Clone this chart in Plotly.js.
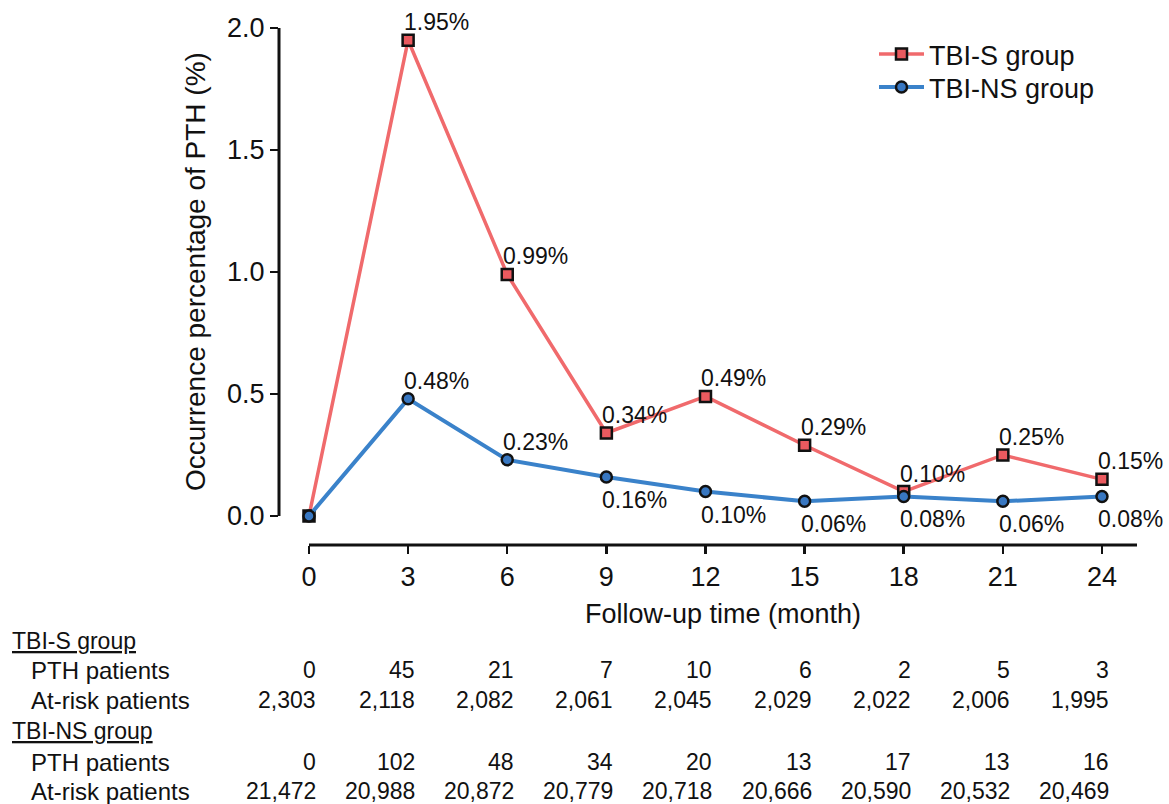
<!DOCTYPE html>
<html><head><meta charset="utf-8">
<script src="https://cdn.plot.ly/plotly-3.0.1.min.js"></script>
<style>html,body{margin:0;padding:0;background:#fff;} #chart{width:1169px;height:804px;}</style>
</head><body><div id="chart"></div>
<script>
// ---- data ----
const months = [0, 3, 6, 9, 12, 15, 18, 21, 24];
const tbiS = [0, 1.95, 0.99, 0.34, 0.49, 0.29, 0.10, 0.25, 0.15];
const tbiNS = [0, 0.48, 0.23, 0.16, 0.10, 0.06, 0.08, 0.06, 0.08];
const yTickVals = [0, 0.5, 1.0, 1.5, 2.0];
const yTickText = ['0.0', '0.5', '1.0', '1.5', '2.0'];
const sPTH = ['0', '45', '21', '7', '10', '6', '2', '5', '3'];
const sRisk = ['2,303', '2,118', '2,082', '2,061', '2,045', '2,029', '2,022', '2,006', '1,995'];
const nsPTH = ['0', '102', '48', '34', '20', '13', '17', '13', '16'];
const nsRisk = ['21,472', '20,988', '20,872', '20,779', '20,718', '20,666', '20,590', '20,532', '20,469'];
const seriesNames = ['TBI-S group', 'TBI-NS group'];
const tableGroups = ['TBI-S group', 'TBI-NS group'];
const tableRowNames = ['PTH patients', 'At-risk patients'];

// ---- geometry ----
const W = 1169, H = 804;
const M = {l: 279, r: 32, t: 28, b: 259};
const PW = W - M.l - M.r, PH = H - M.t - M.b;
const xRange = [-0.908, 25.06];
const yRange = [-0.119, 2.0];
const FONT = 'Liberation Sans, Arial, Helvetica, sans-serif';
const px2x = p => (p - M.l) / PW;          // pixel -> paper x
const py2y = p => (H - M.b - p) / PH;      // pixel -> paper y

const RED_LINE = '#F06A6C', RED_FILL = '#EA5A5F';
const BLUE_LINE = '#3A82CA', BLUE_FILL = '#3877C1';

const traces = [
  {
    x: months, y: tbiS, name: seriesNames[0], type: 'scatter', mode: 'lines+markers',
    line: {color: RED_LINE, width: 3.5}, legend: 'legend',
    marker: {symbol: 'square', size: 11, color: RED_FILL, line: {color: '#111', width: 2.5}},
    cliponaxis: false
  },
  {
    x: months, y: tbiNS, name: seriesNames[1], type: 'scatter', mode: 'lines+markers',
    line: {color: BLUE_LINE, width: 4}, legend: 'legend2',
    marker: {symbol: 'circle', size: 11, color: BLUE_FILL, line: {color: '#111', width: 2.5}},
    cliponaxis: false
  }
];

const ann = [];
const LF = {family: FONT, size: 23, color: '#111'};
// data labels
months.forEach((m, i) => {
  if (m === 0) return;
  ann.push({x: m, y: tbiS[i], xref: 'x', yref: 'y', text: tbiS[i].toFixed(2) + '%',
    showarrow: false, xanchor: 'left', yanchor: 'bottom', xshift: -6, yshift: 3, font: LF});
  ann.push({x: m, y: tbiNS[i], xref: 'x', yref: 'y', text: tbiNS[i].toFixed(2) + '%',
    showarrow: false, xanchor: 'left', yanchor: i <= 2 ? 'bottom' : 'top', xshift: -6,
    yshift: i <= 2 ? 3 : -8, font: LF});
});
// y axis title (centered on the drawn axis line 0..2)
ann.push({xref: 'paper', yref: 'y', x: px2x(196), y: (yTickVals[0] + yTickVals[yTickVals.length - 1]) / 2,
  text: 'Occurrence percentage of PTH (%)', textangle: -90, showarrow: false,
  xanchor: 'center', yanchor: 'middle', font: {family: FONT, size: 28, color: '#111'}});
// x axis title (centered on axis line)
ann.push({xref: 'x', yref: 'paper', x: xRange[1] / 2, y: py2y(614),
  text: 'Follow-up time (month)', showarrow: false, xanchor: 'center', yanchor: 'middle',
  font: {family: FONT, size: 27, color: '#111'}});

// table below
const TF = {family: FONT, size: 23, color: '#111'};
const RF = {family: FONT, size: 24, color: '#111'};
const rowsY = [641, 670, 700, 731, 762, 791];
ann.push({xref: 'paper', yref: 'paper', x: px2x(10), y: py2y(rowsY[0]), text: '<u>' + tableGroups[0] + '</u>',
  showarrow: false, xanchor: 'left', yanchor: 'middle', font: TF});
ann.push({xref: 'paper', yref: 'paper', x: px2x(29), y: py2y(rowsY[1]), text: tableRowNames[0],
  showarrow: false, xanchor: 'left', yanchor: 'middle', font: RF});
ann.push({xref: 'paper', yref: 'paper', x: px2x(29), y: py2y(rowsY[2]), text: tableRowNames[1],
  showarrow: false, xanchor: 'left', yanchor: 'middle', font: RF});
ann.push({xref: 'paper', yref: 'paper', x: px2x(10), y: py2y(rowsY[3]), text: '<u>' + tableGroups[1] + '</u>',
  showarrow: false, xanchor: 'left', yanchor: 'middle', font: TF});
ann.push({xref: 'paper', yref: 'paper', x: px2x(29), y: py2y(rowsY[4]), text: tableRowNames[0],
  showarrow: false, xanchor: 'left', yanchor: 'middle', font: RF});
ann.push({xref: 'paper', yref: 'paper', x: px2x(29), y: py2y(rowsY[5]), text: tableRowNames[1],
  showarrow: false, xanchor: 'left', yanchor: 'middle', font: RF});
const tableRows = [[sPTH, rowsY[1]], [sRisk, rowsY[2]], [nsPTH, rowsY[4]], [nsRisk, rowsY[5]]];
tableRows.forEach(([arr, ry]) => {
  months.forEach((m, i) => {
    ann.push({xref: 'x', yref: 'paper', x: m, y: py2y(ry), text: arr[i], showarrow: false,
      xanchor: 'right', yanchor: 'middle', xshift: 9, font: TF});
  });
});

const shapes = [
  {type: 'line', xref: 'x', yref: 'paper', x0: months[0], x1: xRange[1], y0: 0, y1: 0,
   line: {color: '#111', width: 3}},
  {type: 'line', xref: 'paper', yref: 'y', x0: 0, x1: 0, y0: yTickVals[0], y1: yTickVals[yTickVals.length - 1],
   line: {color: '#111', width: 3}}
];

const legendBase = {xanchor: 'left', yanchor: 'top', bgcolor: 'rgba(0,0,0,0)', itemwidth: 45,
  font: {family: FONT, size: 27, color: '#111'}};

const layout = {
  width: W, height: H,
  margin: M,
  paper_bgcolor: '#fff', plot_bgcolor: '#fff',
  font: {family: FONT, color: '#111'},
  showlegend: true,
  legend: Object.assign({x: px2x(874), y: py2y(30)}, legendBase),
  legend2: Object.assign({x: px2x(874), y: py2y(63)}, legendBase),
  xaxis: {range: xRange, tickvals: months, ticks: 'outside', ticklen: 8, tickwidth: 2.5, tickcolor: '#111',
    showline: false, showgrid: false, zeroline: false, tickfont: {family: FONT, size: 27, color: '#111'},
    fixedrange: true},
  yaxis: {range: yRange, tickvals: yTickVals, ticktext: yTickText, ticks: 'outside', ticklen: 8, tickwidth: 2.5,
    tickcolor: '#111', showline: false, showgrid: false, zeroline: false,
    tickfont: {family: FONT, size: 27, color: '#111'}, fixedrange: true},
  shapes: shapes,
  annotations: ann
};

Plotly.newPlot('chart', traces, layout, {displayModeBar: false, staticPlot: true});
</script>
</body></html>
